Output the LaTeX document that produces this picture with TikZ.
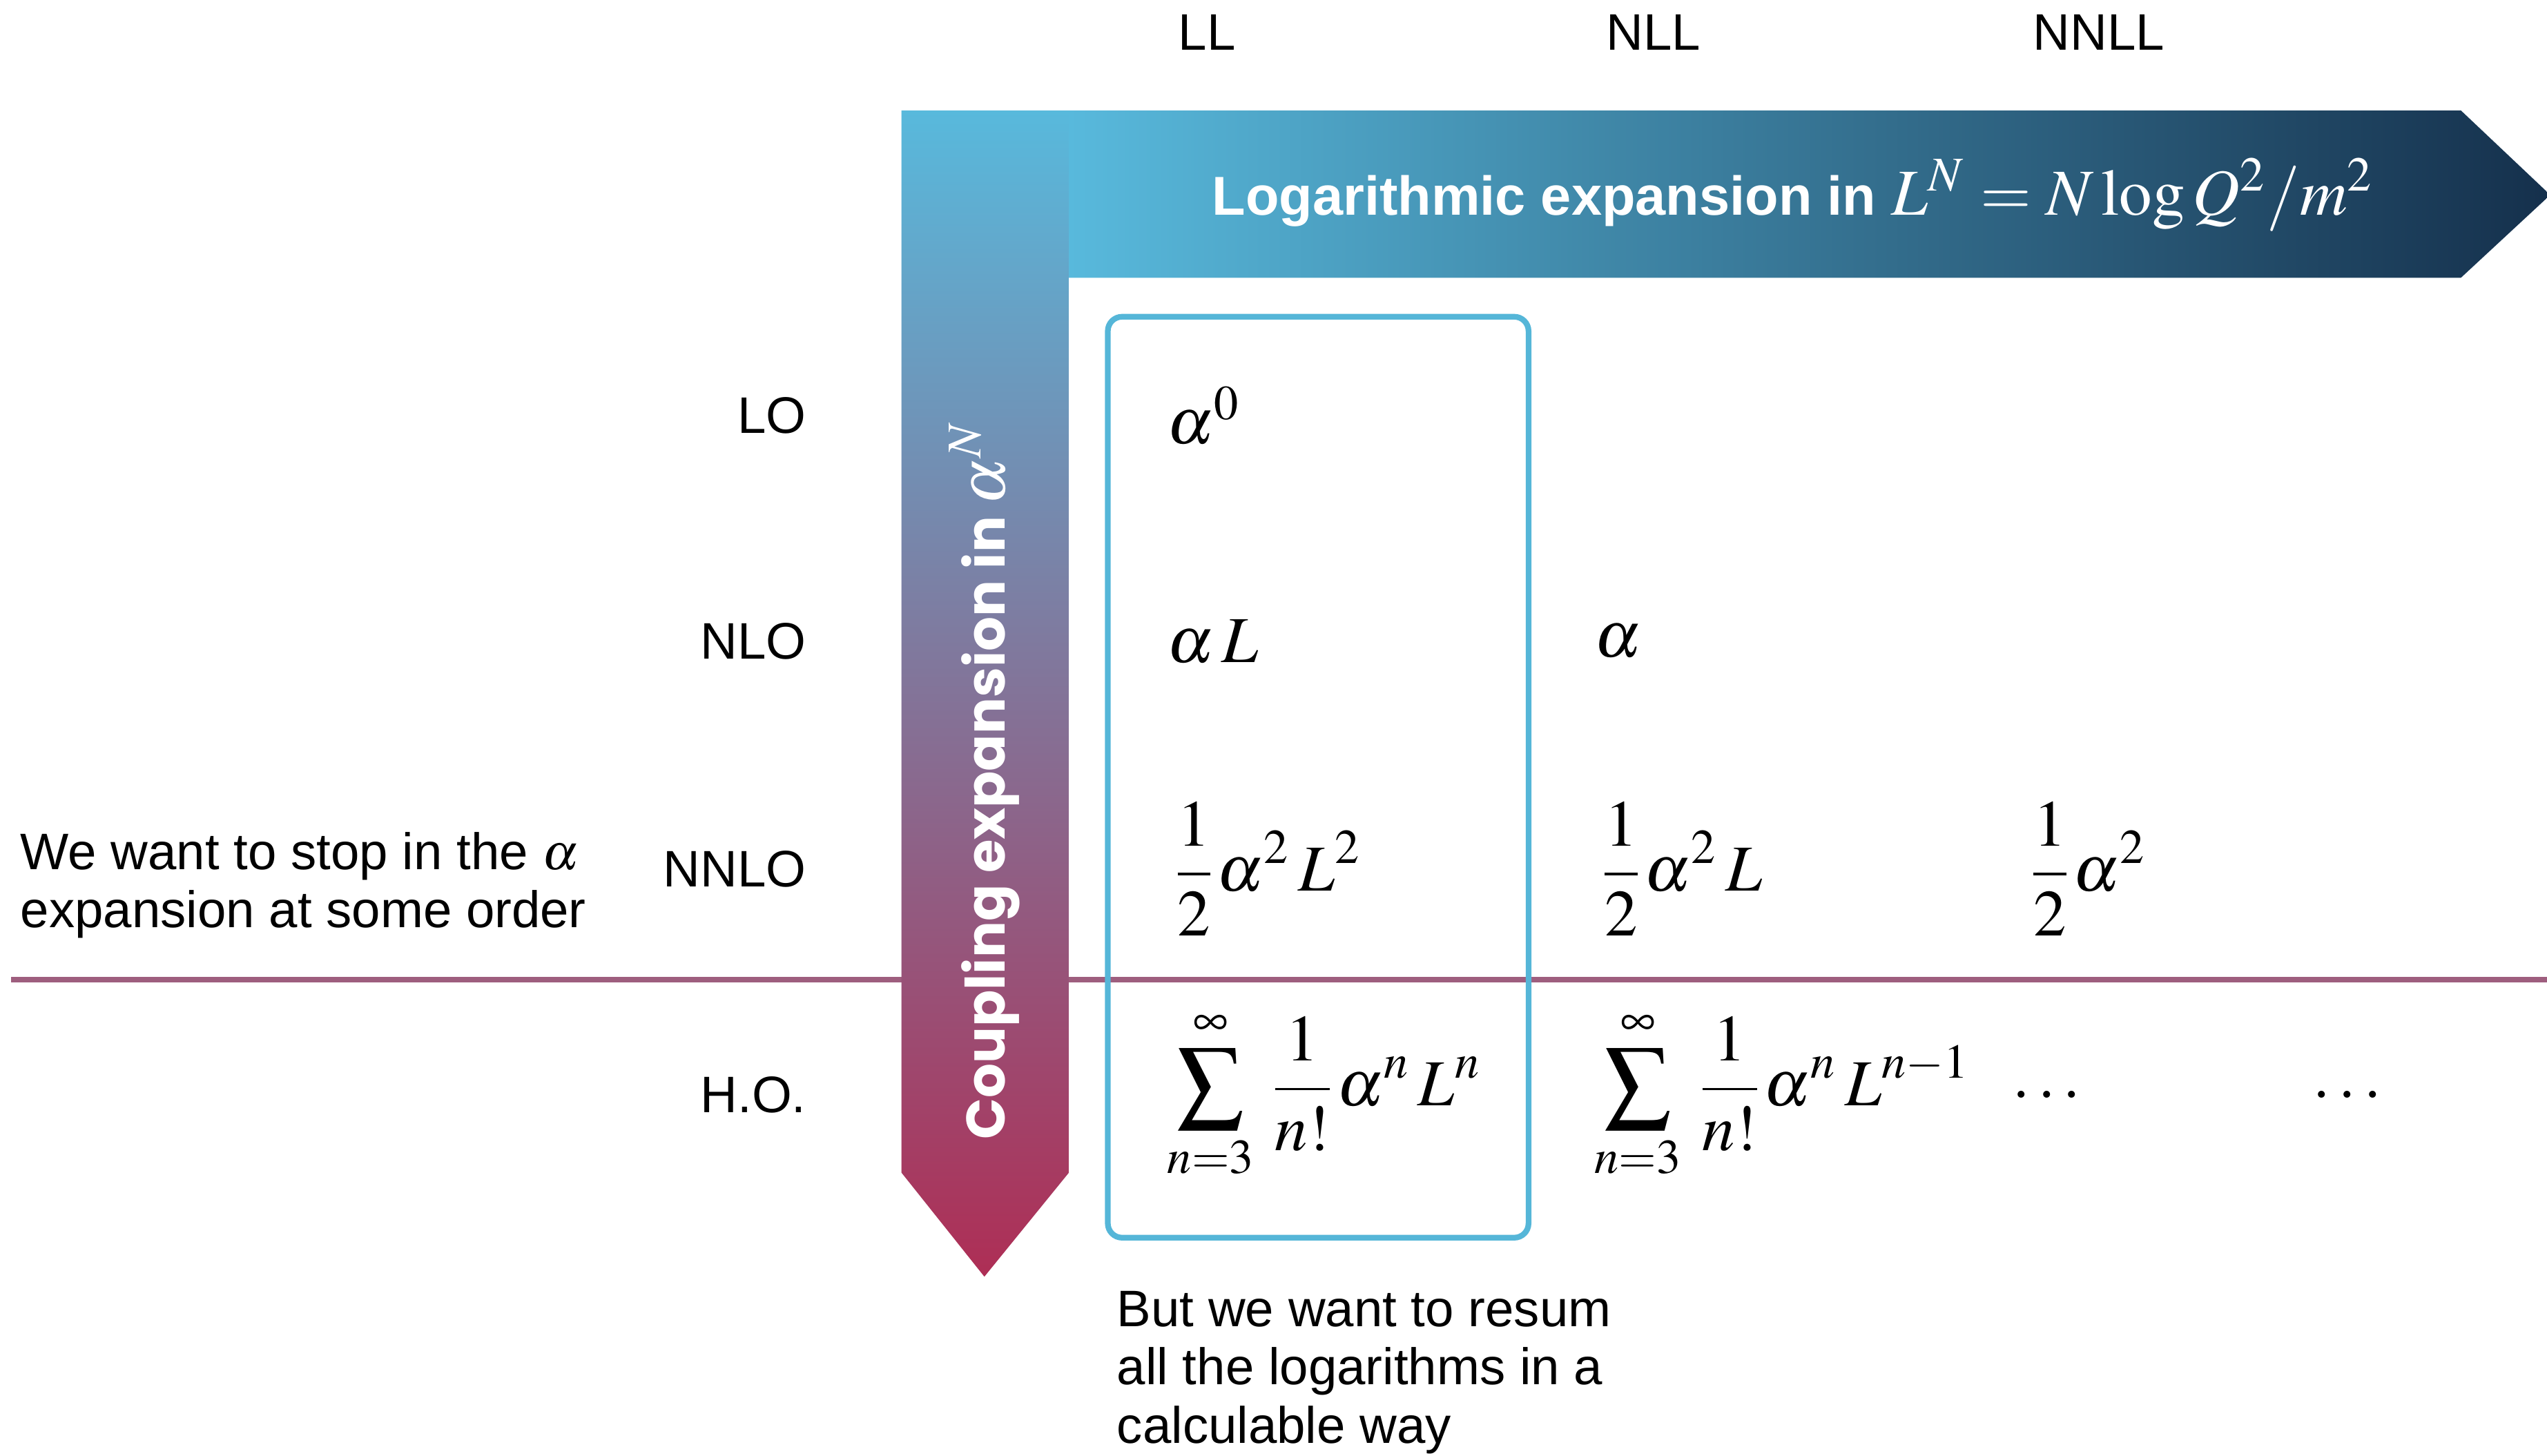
\documentclass[tikz,border=0pt]{standalone}
\usepackage{mathptmx}
\usepackage[no-math]{fontspec}
\setmainfont{Liberation Sans}
\newfontfamily\bandfont{Poppins}
\definecolor{lightblue}{HTML}{58B9DC}
\definecolor{navy}{HTML}{15304C}
\definecolor{crimson}{HTML}{AE2E55}
\definecolor{midpurple}{HTML}{8A80A2}
\definecolor{mauve}{HTML}{9E5E7E}
\definecolor{boxblue}{HTML}{55B6D8}

\begin{document}
\begin{tikzpicture}[
  x=0.1mm,y=-0.1mm,
  every node/.style={inner sep=0pt,font=\fontsize{9}{10.2}\selectfont},
  rowlabel/.style={anchor=east},
  collabel/.style={anchor=center},
  entry/.style={anchor=west,font=\fontsize{11.5}{14}\selectfont},
  note/.style={anchor=west,align=left},
  cutline/.style={draw=mauve,line width=1pt},
  resumbox/.style={draw=boxblue,line width=1pt,rounded corners=2.5pt}
]
\useasboundingbox (0,0) rectangle (1568,896);

\draw[cutline] (7,603) -- (1568,603);

\shade[top color=lightblue,middle color=midpurple,bottom color=crimson]
  (555,68) -- (658,68) -- (658,722) -- (606,786) -- (555,722) -- cycle;
\shade[left color=lightblue,right color=navy]
  (658,68) -- (1515,68) -- (1570,120) -- (1515,171) -- (658,171) -- cycle;

\node[text=white,rotate=90] (coupling) at (606,480)
  {{\bandfont\bfseries\fontsize{9.5}{12}\selectfont Coupling expansion in }{\fontsize{11.5}{13}\selectfont$\alpha^N$}};
\node[text=white] (logexp) at (1104,120)
  {{\bfseries\fontsize{9.6}{11}\selectfont Logarithmic expansion in }{\fontsize{11.5}{13}\selectfont$L^N=N\log Q^2/m^2$}};

\node[collabel] (ll) at (743,20) {LL};
\node[collabel] (nll) at (1018,20) {NLL};
\node[collabel] (nnll) at (1292,20) {NNLL};

\node[rowlabel] (lo) at (497,256) {LO};
\node[rowlabel] (nlo) at (497,395) {NLO};
\node[rowlabel] (nnlo) at (497,535) {NNLO};
\node[rowlabel] (ho) at (497,674) {H.O.};

\draw[resumbox] (682,195) rectangle (941,762);

\node[entry] (lo-ll) at (718,256) {$\alpha^0$};
\node[entry] (nlo-ll) at (718,395) {$\alpha\,L$};
\node[entry] (nnlo-ll) at (720,535) {$\displaystyle\frac12\alpha^2\,L^2$};
\node[entry] (ho-ll) at (718,674) {$\displaystyle\sum_{n=3}^{\infty}\,\frac{1}{n!}\alpha^n\,L^n$};
\node[entry] (nlo-nll) at (981,395) {$\alpha$};
\node[entry] (nnlo-nll) at (983,535) {$\displaystyle\frac12\alpha^2\,L$};
\node[entry] (ho-nll) at (981,674) {$\displaystyle\sum_{n=3}^{\infty}\,\frac{1}{n!}\alpha^n\,L^{n-1}$};
\node[entry] (nnlo-nnll) at (1247,535) {$\displaystyle\frac12\alpha^2$};
\node[entry,anchor=center] (ho-nnll) at (1260,674) {$\dots$};
\node[entry,anchor=center] (ho-more) at (1445,674) {$\dots$};

\node[note] (stop) at (12,545) {We want to stop in the $\alpha$\\expansion at some order};
\node[note] (resum) at (687,845) {But we want to resum\\all the logarithms in a\\calculable way};
\end{tikzpicture}
\end{document}
